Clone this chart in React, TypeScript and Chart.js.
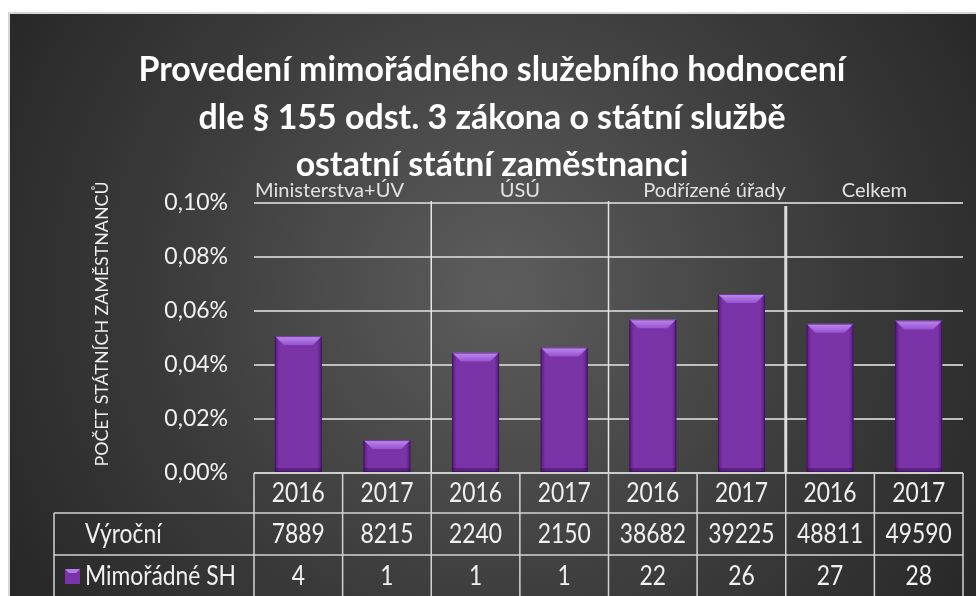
import React, { useEffect, useRef } from "react";
import { Chart, registerables } from "chart.js";

Chart.register(...registerables);

const titleLines = [
  "Provedení mimořádného služebního hodnocení",
  "dle § 155 odst. 3 zákona o státní službě",
  "ostatní státní zaměstnanci",
];
const yAxisTitle = "POČET STÁTNÍCH ZAMĚSTNANCŮ";
const groups = ["Ministerstva+ÚV", "ÚSÚ", "Podřízené úřady", "Celkem"];
const years = ["2016", "2017", "2016", "2017", "2016", "2017", "2016", "2017"];
const rowLabels = ["Výroční", "Mimořádné SH"];
const annualCounts = [7889, 8215, 2240, 2150, 38682, 39225, 48811, 49590];
const extraCounts = [4, 1, 1, 1, 22, 26, 27, 28];
// share of employees (percent)
const shares = [0.0507, 0.0122, 0.0446, 0.0465, 0.0569, 0.0663, 0.0553, 0.0565];
const yMin = 0;
const yMax = 0.1;
const yStep = 0.02;

const FONT = "Lato, 'Open Sans', sans-serif";
const BAR = "#7a34a8";

// draw text with a horizontal squeeze (Calibri-like narrow look)
function sText(ctx: CanvasRenderingContext2D, t: string, x: number, y: number, sx: number) {
  ctx.save();
  ctx.translate(x, y);
  ctx.scale(sx, 1);
  ctx.fillText(t, 0, 0);
  ctx.restore();
}

function widthScale(ctx: CanvasRenderingContext2D, text: string, font: string, target: number) {
  ctx.font = font;
  return target / ctx.measureText(text).width;
}

const decorPlugin = {
  id: "decor",
  beforeDraw(chart: any) {
    const { ctx, width, height } = chart;
    ctx.save();
    ctx.fillStyle = "#ffffff";
    ctx.fillRect(0, 0, width, height);
    ctx.fillStyle = "#d6d6d6";
    ctx.fillRect(8, 12, width - 8, height - 12);
    const g = ctx.createRadialGradient(500, 290, 10, 500, 290, 620);
    g.addColorStop(0, "#5c5c5c");
    g.addColorStop(0.55, "#3a3a3a");
    g.addColorStop(1, "#232323");
    ctx.fillStyle = g;
    ctx.fillRect(10, 14, width - 10, height - 14);

    // title
    const tf = `bold 34px ${FONT}`;
    const tsx = widthScale(ctx, titleLines[0], tf, 707);
    ctx.font = tf;
    ctx.fillStyle = "#ffffff";
    ctx.textAlign = "center";
    ctx.textBaseline = "middle";
    const ty = [70, 118, 165];
    titleLines.forEach((t, i) => sText(ctx, t, 492, ty[i], tsx));

    // y axis title
    const yf = `normal 17px ${FONT}`;
    const ysx = widthScale(ctx, yAxisTitle, yf, 285);
    ctx.font = yf;
    ctx.fillStyle = "#eeeeee";
    ctx.translate(103, 324);
    ctx.rotate(-Math.PI / 2);
    sText(ctx, yAxisTitle, 0, 0, ysx);
    ctx.restore();
  },
  afterDatasetsDraw(chart: any) {
    const { ctx } = chart;
    const meta = chart.getDatasetMeta(0);
    ctx.save();
    meta.data.forEach((el: any) => {
      const { x, y, base, width } = el.getProps(["x", "y", "base", "width"], true);
      const l = x - width / 2;
      const r = x + width / 2;
      const h = base - y;
      const sg = ctx.createLinearGradient(l, 0, r, 0);
      sg.addColorStop(0, "rgba(40,0,60,0.45)");
      sg.addColorStop(0.1, "rgba(40,0,60,0.0)");
      sg.addColorStop(0.9, "rgba(40,0,60,0.0)");
      sg.addColorStop(1, "rgba(40,0,60,0.45)");
      ctx.fillStyle = sg;
      ctx.fillRect(l, y, width, h);
      ctx.fillStyle = "rgba(40,0,60,0.35)";
      ctx.fillRect(l, base - 4, width, 4);
      const bv = Math.min(9, h / 2);
      const tg = ctx.createLinearGradient(0, y, 0, y + bv);
      tg.addColorStop(0, "#c08af0");
      tg.addColorStop(1, "#9652cf");
      ctx.fillStyle = tg;
      ctx.beginPath();
      ctx.moveTo(l, y);
      ctx.lineTo(r, y);
      ctx.lineTo(r - bv, y + bv);
      ctx.lineTo(l + bv, y + bv);
      ctx.closePath();
      ctx.fill();
      ctx.strokeStyle = "rgba(50,10,80,0.6)";
      ctx.lineWidth = 1;
      ctx.strokeRect(l + 0.5, y + 0.5, width - 1, h - 1);
    });
    ctx.restore();
  },
  afterDraw(chart: any) {
    const { ctx, chartArea } = chart;
    const xs = chart.scales.x;
    const n = years.length;
    const colW = (chartArea.right - chartArea.left) / n;
    const bx = (i: number) => chartArea.left + i * colW;
    const y0 = chartArea.bottom;
    const y1 = y0 + 40;
    const y2 = y1 + 42;
    const y3 = y2 + 44;
    const tableLeft = 54;
    ctx.save();

    // group separators
    ctx.strokeStyle = "#e6e6e6";
    [2, 4].forEach((i) => {
      ctx.lineWidth = 1.5;
      ctx.beginPath();
      ctx.moveTo(bx(i), chartArea.top - 2);
      ctx.lineTo(bx(i), y0);
      ctx.stroke();
    });
    ctx.lineWidth = 3;
    ctx.strokeStyle = "#dcdcdc";
    ctx.beginPath();
    ctx.moveTo(bx(6), chartArea.top + 3);
    ctx.lineTo(bx(6), y0);
    ctx.stroke();

    // group labels
    const gf = `normal 20px ${FONT}`;
    const gsx = widthScale(ctx, groups[0], gf, 149);
    ctx.font = gf;
    ctx.fillStyle = "#e2e2e2";
    ctx.textBaseline = "alphabetic";
    const gy = chartArea.top - 6;
    ctx.textAlign = "left";
    sText(ctx, groups[0], bx(0) + 1, gy, gsx);
    ctx.textAlign = "center";
    sText(ctx, groups[1], bx(3), gy, gsx);
    ctx.textAlign = "right";
    sText(ctx, groups[2], bx(6), gy, gsx);
    ctx.textAlign = "center";
    sText(ctx, groups[3], bx(7), gy, gsx);

    // table lines
    ctx.strokeStyle = "#d2d2d2";
    ctx.lineWidth = 1.5;
    ctx.beginPath();
    ctx.moveTo(bx(0), y0);
    ctx.lineTo(bx(n), y0);
    ctx.moveTo(tableLeft, y1);
    ctx.lineTo(bx(n), y1);
    ctx.moveTo(tableLeft, y2);
    ctx.lineTo(bx(n), y2);
    ctx.moveTo(tableLeft, y1);
    ctx.lineTo(tableLeft, y3);
    for (let i = 0; i <= n; i++) {
      ctx.moveTo(bx(i), y0);
      ctx.lineTo(bx(i), y3);
    }
    ctx.stroke();

    // table text
    const tf = `normal 26px ${FONT}`;
    const tsx = widthScale(ctx, "2016", tf, 53);
    ctx.font = tf;
    ctx.fillStyle = "#f0f0f0";
    ctx.textAlign = "center";
    ctx.textBaseline = "middle";
    const r1 = (y0 + y1) / 2 + 1;
    const r2 = (y1 + y2) / 2 + 1;
    const r3 = y2 + 22;
    for (let i = 0; i < n; i++) {
      const cx = xs.getPixelForValue(i);
      sText(ctx, years[i], cx, r1, tsx);
      sText(ctx, String(annualCounts[i]), cx, r2, tsx);
      sText(ctx, String(extraCounts[i]), cx, r3, tsx);
    }
    ctx.textAlign = "left";
    sText(ctx, rowLabels[0], 85, r2, tsx);
    sText(ctx, rowLabels[1], 85, r3, tsx);

    // legend swatch
    const sy = r3 - 8;
    ctx.fillStyle = BAR;
    ctx.fillRect(65, sy, 15, 15);
    ctx.fillStyle = "#b37ce6";
    ctx.beginPath();
    ctx.moveTo(65, sy);
    ctx.lineTo(80, sy);
    ctx.lineTo(76, sy + 4);
    ctx.lineTo(69, sy + 4);
    ctx.closePath();
    ctx.fill();
    ctx.restore();
  },
};

export default function App() {
  const ref = useRef<HTMLCanvasElement | null>(null);
  useEffect(() => {
    if (!ref.current) return;
    const chart = new Chart(ref.current, {
      type: "bar",
      data: {
        labels: years,
        datasets: [
          {
            label: rowLabels[1],
            data: shares,
            backgroundColor: BAR,
            borderWidth: 0,
            barPercentage: 0.53,
            categoryPercentage: 1,
          },
        ],
      },
      options: {
        animation: false,
        responsive: false,
        layout: { padding: { top: 203, right: 13, bottom: 123, left: 0 } },
        plugins: {
          legend: { display: false },
          tooltip: { enabled: false },
          title: { display: false },
        },
        scales: {
          x: { display: false },
          y: {
            min: yMin,
            max: yMax,
            afterFit: (s: any) => {
              s.width = 254;
            },
            border: { display: false },
            grid: { color: "#bfbfbf", lineWidth: 2, drawTicks: false },
            ticks: {
              stepSize: yStep,
              padding: 26,
              color: "#f2f2f2",
              font: { family: FONT, size: 23 },
              callback: (v: any) => Number(v).toFixed(2).replace(".", ",") + "%",
            },
          },
        },
      },
      plugins: [decorPlugin],
    });
    return () => chart.destroy();
  }, []);
  return (
    <div style={{ position: "fixed", left: 0, top: 0, width: 976, height: 596 }}>
      <canvas ref={ref} width={976} height={596} style={{ display: "block" }} />
    </div>
  );
}
